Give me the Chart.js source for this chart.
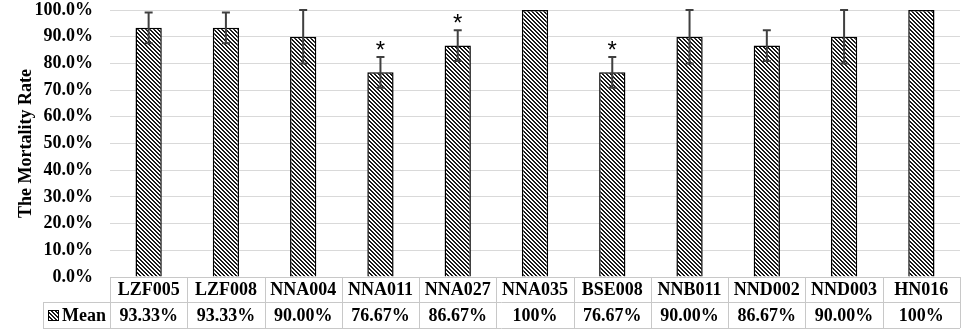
<!DOCTYPE html>
<html>
<head>
<meta charset="utf-8">
<script src="https://cdn.jsdelivr.net/npm/chart.js@4"></script>
<style>
  body { margin: 0; background: #fff; }
  #wrap { position: relative; width: 964px; height: 334px; }
</style>
</head>
<body>
<div id="wrap"><canvas id="chart"></canvas></div>
<script>
const categories = ["LZF005", "LZF008", "NNA004", "NNA011", "NNA027", "NNA035", "BSE008", "NNB011", "NND002", "NND003", "HN016"];
const meanValues = [93.33, 93.33, 90.00, 76.67, 86.67, 100, 76.67, 90.00, 86.67, 90.00, 100];
const errorValues = [5.77, 5.77, 10, 5.77, 5.77, 0, 5.77, 10, 5.77, 10, 0];
const meanLabels = ["93.33%", "93.33%", "90.00%", "76.67%", "86.67%", "100%", "76.67%", "90.00%", "86.67%", "90.00%", "100%"];
const significant = [false, false, false, true, true, false, true, false, false, false, false];
const seriesName = "Mean";

const FONT = "'Liberation Serif', 'Times New Roman', serif";

// diagonal hatch "\\\\" pattern
function makeHatch(ctx) {
    const tile = document.createElement("canvas");
    tile.width = 4;
    tile.height = 4;
    const t = tile.getContext("2d");
    t.fillStyle = "#fff";
    t.fillRect(0, 0, 4, 4);
    t.fillStyle = "#1a1a1a";
    for (let y = 0; y < 4; y++) {
        for (let x = 0; x < 4; x++) {
            const d = ((x - y) % 4 + 4) % 4;
            if (d === 0 || d === 1) t.fillRect(x, y, 1, 1);
        }
    }
    return ctx.createPattern(tile, "repeat");
}

const errorBars = {
    id: "errorBars",
    afterDatasetsDraw(chart) {
        const ctx = chart.ctx;
        const x = chart.scales.x;
        const y = chart.scales.y;
        ctx.save();
        ctx.strokeStyle = "#404040";
        ctx.lineWidth = 2;
        meanValues.forEach((v, i) => {
            const e = errorValues[i];
            const px = x.getPixelForValue(i);
            const top = y.getPixelForValue(Math.min(v + e, 100));
            const bot = y.getPixelForValue(v - e);
            if (e > 0) {
                ctx.beginPath();
                ctx.moveTo(px, top);
                ctx.lineTo(px, bot);
                ctx.moveTo(px - 4, top);
                ctx.lineTo(px + 4, top);
                ctx.moveTo(px - 4, bot);
                ctx.lineTo(px + 4, bot);
                ctx.stroke();
            }
            if (significant[i]) {
                ctx.fillStyle = "#000";
                ctx.font = "24px 'Liberation Sans', Arial, sans-serif";
                ctx.textAlign = "center";
                ctx.textBaseline = "alphabetic";
                ctx.fillText("*", px, top + 1);
            }
        });
        ctx.restore();
    }
};

const dataTable = {
    id: "dataTable",
    afterDraw(chart) {
        const ctx = chart.ctx;
        const x = chart.scales.x;
        const area = chart.chartArea;
        const n = categories.length;
        const colW = (area.right - area.left) / n;
        const r0 = area.bottom, r1 = r0 + 25, r2 = r1 + 26;
        const headLeft = 43;
        ctx.save();
        ctx.strokeStyle = "#c8c8c8";
        ctx.lineWidth = 1;
        ctx.beginPath();
        ctx.moveTo(area.left, r0 + 0.5); ctx.lineTo(area.right, r0 + 0.5);
        ctx.moveTo(headLeft, r1 + 0.5); ctx.lineTo(area.right, r1 + 0.5);
        ctx.moveTo(headLeft, r2 + 0.5); ctx.lineTo(area.right, r2 + 0.5);
        ctx.moveTo(headLeft + 0.5, r1); ctx.lineTo(headLeft + 0.5, r2);
        for (let i = 0; i <= n; i++) {
            const lx = Math.round(area.left + i * colW) + 0.5;
            ctx.moveTo(lx, r0); ctx.lineTo(lx, r2);
        }
        ctx.stroke();

        ctx.fillStyle = "#000";
        ctx.font = "bold 18px " + FONT;
        ctx.textAlign = "center";
        ctx.textBaseline = "middle";
        categories.forEach((c, i) => {
            const px = x.getPixelForValue(i);
            ctx.fillText(c, px, (r0 + r1) / 2 + 1);
            ctx.fillText(meanLabels[i], px, (r1 + r2) / 2 + 1);
        });

        // legend key
        const kx = 48, ky = r1 + 8;
        ctx.fillStyle = makeHatch(ctx);
        ctx.fillRect(kx, ky, 11, 11);
        ctx.strokeStyle = "#000";
        ctx.strokeRect(kx + 0.5, ky + 0.5, 10, 10);
        ctx.fillStyle = "#000";
        ctx.textAlign = "left";
        ctx.fillText(seriesName, 62, (r1 + r2) / 2 + 1);
        ctx.restore();
    }
};

const canvas = document.getElementById("chart");
const context = canvas.getContext("2d");

new Chart(context, {
    type: "bar",
    data: {
        labels: categories,
        datasets: [{
            label: seriesName,
            data: meanValues,
            backgroundColor: makeHatch(context),
            borderColor: "#000",
            borderWidth: 1.5,
            barPercentage: 0.34,
            categoryPercentage: 1
        }]
    },
    options: {
        responsive: true,
        maintainAspectRatio: false,
        animation: false,
        layout: { padding: { top: 0, right: 4, bottom: 57, left: 0 } },
        plugins: {
            legend: { display: false },
            tooltip: { enabled: false }
        },
        scales: {
            x: {
                display: false,
                offset: true
            },
            y: {
                min: 0,
                max: 100,
                afterFit(scale) {
                    scale.width = 110;
                    scale.paddingTop = 10;
                },
                border: { display: false },
                grid: { color: "#d9d9d9", lineWidth: 1, drawTicks: false },
                ticks: {
                    stepSize: 10,
                    padding: 17,
                    color: "#000",
                    font: { family: FONT, size: 18, weight: "bold" },
                    callback: (v) => v.toFixed(1) + "%"
                },
                title: {
                    display: true,
                    text: "The Mortality Rate",
                    color: "#000",
                    font: { family: FONT, size: 18, weight: "bold" },
                    padding: { top: 16, bottom: 0 }
                }
            }
        }
    },
    plugins: [errorBars, dataTable]
});
</script>
</body>
</html>
